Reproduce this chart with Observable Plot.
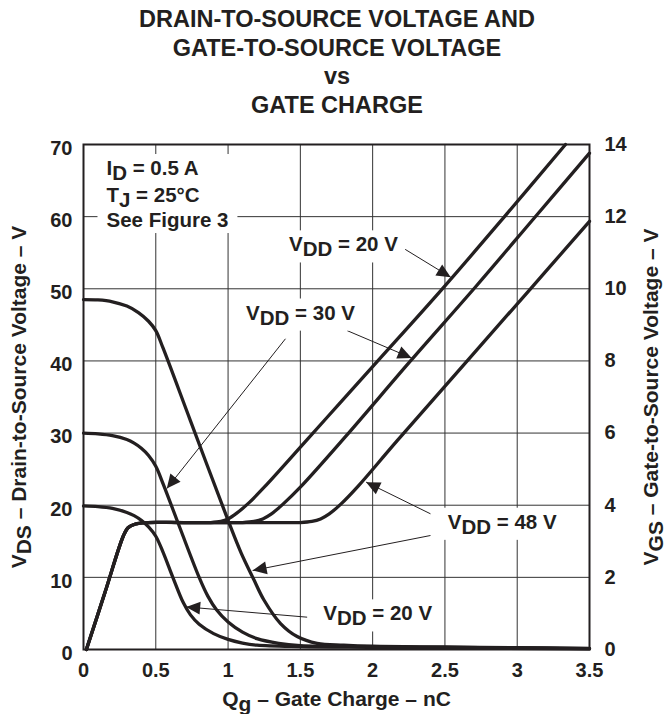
<!DOCTYPE html>
<html>
<head>
<meta charset="utf-8">
<script src="https://cdn.jsdelivr.net/npm/d3@7"></script>
<script src="https://cdn.jsdelivr.net/npm/@observablehq/plot@0.6"></script>
<style>
  body { margin: 0; background: #fff; font-family: "Liberation Sans", Arial, sans-serif; }
  #title { width: 667px; height: 120px; box-sizing: border-box; padding: 5px 0 0 7px; text-align: center;
           font-weight: bold; font-size: 23.5px; line-height: 28.5px; color: #231f20; }
  #chart svg { display: block; }
</style>
</head>
<body>
<div id="title">DRAIN-TO-SOURCE VOLTAGE AND<br>GATE-TO-SOURCE VOLTAGE<br>vs<br>GATE CHARGE</div>
<div id="chart"></div>
<script>
// ---------- axes ----------
const xTicks = [0, 0.5, 1, 1.5, 2, 2.5, 3, 3.5];
const vdsTicks = [0, 10, 20, 30, 40, 50, 60, 70];
const vgsTicks = [0, 2, 4, 6, 8, 10, 12, 14];
const xLabel = "Q_{g} – Gate Charge – nC";
const leftLabel = "V_{DS} – Drain-to-Source Voltage – V";
const rightLabel = "V_{GS} – Gate-to-Source Voltage – V";

// ---------- VDS curves (left axis, V) ----------
const q48 = [0, 0.1, 0.2, 0.3, 0.38, 0.45, 0.5, 0.55, 0.74, 1.0, 1.09, 1.178, 1.247, 1.363, 1.478, 1.616, 1.8, 2.0, 2.5, 3.0, 3.5];
const vds48 = [48.5, 48.45, 48.2, 47.6, 46.7, 45.5, 44.2, 41.8, 31.7, 17.9, 13.4, 9.7, 6.9, 3.6, 1.8, 0.85, 0.6, 0.45, 0.35, 0.25, 0.15];
const q30 = [0, 0.1, 0.2, 0.3, 0.35, 0.4, 0.45, 0.5, 0.55, 0.67, 0.8, 0.86, 0.92, 1.0, 1.1, 1.2, 1.35, 1.5, 2.0, 2.5, 3.0, 3.5];
const vds30 = [30, 29.9, 29.65, 29.1, 28.6, 27.9, 26.9, 25.4, 23.0, 16.7, 10.0, 7.4, 5.5, 3.8, 2.4, 1.5, 0.85, 0.55, 0.4, 0.3, 0.22, 0.12];
const q20 = [0, 0.1, 0.2, 0.3, 0.35, 0.4, 0.45, 0.5, 0.55, 0.62, 0.69, 0.74, 0.8, 0.9, 1.0, 1.1, 1.2, 1.5, 2.0, 3.5];
const vds20 = [19.9, 19.8, 19.55, 19.0, 18.55, 17.9, 17.0, 15.7, 13.5, 9.9, 6.5, 4.8, 3.5, 2.2, 1.4, 0.9, 0.6, 0.4, 0.3, 0.1];

// ---------- VGS curves (right axis, V) ----------
const qg48 = [0.02, 0.15, 0.277, 0.31, 0.36, 0.43, 0.7, 1.0, 1.25, 1.5, 1.58, 1.64, 1.7, 1.78, 1.9, 2.17, 3.092, 3.5];
const vgs48 = [0, 1.6, 3.16, 3.38, 3.48, 3.52, 3.52, 3.52, 3.52, 3.52, 3.55, 3.62, 3.76, 4.03, 4.53, 5.79, 10.0, 11.87];
const qg30 = [0.02, 0.15, 0.277, 0.31, 0.36, 0.43, 0.7, 0.9, 1.1, 1.18, 1.24, 1.3, 1.38, 1.5, 1.812, 2.262, 2.711, 3.115, 3.5];
const vgs30 = [0, 1.6, 3.16, 3.38, 3.48, 3.52, 3.52, 3.52, 3.52, 3.55, 3.62, 3.76, 4.03, 4.5, 5.9, 8.0, 10.05, 11.95, 13.76];
const qg20 = [0.02, 0.15, 0.277, 0.31, 0.36, 0.43, 0.65, 0.88, 0.95, 1.0, 1.06, 1.14, 1.25, 1.547, 1.778, 2.031, 2.476, 2.912, 3.334];
const vgs20 = [0, 1.6, 3.16, 3.38, 3.48, 3.52, 3.52, 3.52, 3.55, 3.62, 3.78, 4.05, 4.5, 5.82, 6.85, 7.98, 9.97, 12.0, 14.0];

// ---------- annotations (data units) ----------
const vddLabels = ["V_{DD} = 20 V", "V_{DD} = 30 V", "V_{DD} = 48 V", "V_{DD} = 20 V"];
const vddLabelQ = [1.798, 1.501, 2.896, 2.035];
const vddLabelV = [56.1, 46.65, 17.65, 4.95];
const noteLines = ["I_{D} = 0.5 A", "T_{J} = 25°C", "See Figure 3"];
const noteQ = [0.159, 0.159, 0.159];
const noteV = [66.68, 62.93, 59.47];
const leaderQ1 = [2.214, 1.824, 1.397, 2.400, 2.400, 1.547];
const leaderV1 = [55.6, 44.2, 43.07, 18.81, 15.8, 4.48];
const leaderQ2 = [2.54, 2.27, 0.576, 1.955, 1.17, 0.71];
const leaderV2 = [51.6, 40.4, 22.3, 23.2, 10.95, 5.9];

// ---------- build tables ----------
const k = vdsTicks[vdsTicks.length - 1] / vgsTicks[vgsTicks.length - 1]; // right-axis to left-axis scale
const rows = [];
function add(id, qs, vs, f) { qs.forEach((q, i) => rows.push({id, q, v: vs[i] * f})); }
add("vds48", q48, vds48, 1);
add("vds30", q30, vds30, 1);
add("vds20", q20, vds20, 1);
add("vgs48", qg48, vgs48, k);
add("vgs30", qg30, vgs30, k);
add("vgs20", qg20, vgs20, k);

const vddTable = vddLabels.map((t, i) => ({t, q: vddLabelQ[i], v: vddLabelV[i]}));
const noteTable = noteLines.map((t, i) => ({t, q: noteQ[i], v: noteV[i]}));
const leaders = leaderQ1.map((q, i) => ({q1: q, v1: leaderV1[i], q2: leaderQ2[i], v2: leaderV2[i]}));

const ink = "#231f20";
const fontFamily = "'Liberation Sans', Arial, Helvetica, sans-serif";
const labelStyle = {x: "q", y: "v", text: "t", lineAnchor: "middle", fontSize: 20.5, fontWeight: "bold", fill: ink};

const svg = Plot.plot({
  width: 667,
  height: 594,
  marginLeft: 83,
  marginRight: 78,
  marginTop: 24,
  marginBottom: 65,
  style: {fontFamily, fontWeight: "bold", color: ink, background: "#fff", overflow: "visible"},
  x: {domain: [0, 3.5]},
  y: {domain: [0, 70]},
  marks: [
    Plot.gridX(xTicks, {stroke: "#333", strokeOpacity: 1, strokeWidth: 1}),
    Plot.gridY(vdsTicks, {stroke: "#333", strokeOpacity: 1, strokeWidth: 1}),
    Plot.link(leaders, {x1: "q1", y1: "v1", x2: "q2", y2: "v2", stroke: ink, strokeWidth: 1}),
    Plot.text(vddTable, {...labelStyle, textAnchor: "middle"}),
    Plot.text(noteTable, {...labelStyle, textAnchor: "start"}),
    Plot.line(rows, {x: "q", y: "v", z: "id", curve: "catmull-rom", stroke: ink, strokeWidth: 3.3,
      strokeLinejoin: "round", strokeLinecap: "round"}),
    Plot.frame({stroke: ink, strokeWidth: 2}),
    Plot.axisX(xTicks, {anchor: "bottom", tickSize: 0, tickPadding: 13, fontSize: 20, fontWeight: "bold",
      tickFormat: d => String(d), label: null, fill: ink}),
    Plot.axisY(vdsTicks, {anchor: "left", tickSize: 0, tickPadding: 11, dy: 4, fontSize: 20, fontWeight: "bold",
      tickFormat: d => String(d), label: null, fill: ink}),
    Plot.axisY(vgsTicks.map(v => v * k), {anchor: "right", tickSize: 0, tickPadding: 15, fontSize: 20, fontWeight: "bold",
      tickFormat: d => String(d / k), label: null, fill: ink}),
    Plot.text([xLabel], {frameAnchor: "bottom", dy: 49.5, textAnchor: "middle", lineAnchor: "middle",
      fontSize: 21, fontWeight: "bold", fill: ink}),
    Plot.text([leftLabel], {frameAnchor: "left", dx: -64.5, rotate: -90, textAnchor: "middle", lineAnchor: "middle",
      fontSize: 21, fontWeight: "bold", fill: ink}),
    Plot.text([rightLabel], {frameAnchor: "right", dx: 62, rotate: -90, textAnchor: "middle", lineAnchor: "middle",
      fontSize: 21, fontWeight: "bold", fill: ink})
  ]
});

const ns = "http://www.w3.org/2000/svg";
const defs = document.createElementNS(ns, "defs");
defs.innerHTML =
  '<marker id="tri" viewBox="-15 -8 16 16" refX="0" refY="0" markerWidth="16" markerHeight="16" markerUnits="userSpaceOnUse" orient="auto" overflow="visible">' +
    '<path d="M-14,-6.5L0,0L-14,6.5Z" fill="' + ink + '"/></marker>';
svg.insertBefore(defs, svg.firstChild);

// subscripts: turn "_{..}" into lowered tspans; remember annotation text elements
const vddEls = [], noteEls = [];
svg.querySelectorAll("text").forEach(t => {
  const s = t.textContent;
  if (vddLabels.includes(s)) vddEls.push(t);
  if (noteLines.includes(s)) noteEls.push(t);
  if (!s.includes("_{")) return;
  while (t.firstChild) t.removeChild(t.firstChild);
  let lowered = false;
  s.split(/(_\{[^}]*\})/).forEach(p => {
    if (!p) return;
    const ts = document.createElementNS(ns, "tspan");
    if (p.startsWith("_{")) {
      ts.textContent = p.slice(2, -1);
      ts.setAttribute("dy", "0.25em");
      lowered = true;
    } else {
      ts.textContent = p;
      if (lowered) { ts.setAttribute("dy", "-0.25em"); lowered = false; }
    }
    t.appendChild(ts);
  });
});

// filled triangular arrowheads on leader lines
let leaderEls = svg.querySelectorAll('g[aria-label="link"] path');
if (!leaderEls.length) leaderEls = svg.querySelectorAll('g[aria-label="link"] line');
leaderEls.forEach(el => el.setAttribute("marker-end", "url(#tri)"));

document.getElementById("chart").appendChild(svg);

// white knock-out boxes behind the annotation texts (they mask the grid as in the reference)
const sr = svg.getBoundingClientRect();
const boxes = document.createElementNS(ns, "g");
function knock(els, padX, padY) {
  let x0 = Infinity, y0 = Infinity, x1 = -Infinity, y1 = -Infinity;
  els.forEach(t => {
    const b = t.getBoundingClientRect();
    x0 = Math.min(x0, b.left); y0 = Math.min(y0, b.top);
    x1 = Math.max(x1, b.right); y1 = Math.max(y1, b.bottom);
  });
  const r = document.createElementNS(ns, "rect");
  r.setAttribute("x", x0 - sr.left - padX);
  r.setAttribute("y", y0 - sr.top - padY);
  r.setAttribute("width", x1 - x0 + 2 * padX);
  r.setAttribute("height", y1 - y0 + 2 * padY);
  r.setAttribute("fill", "white");
  boxes.appendChild(r);
}
vddEls.forEach(t => knock([t], 7, 2));
if (noteEls.length) knock(noteEls, 9, 2);
if (vddEls.length) {
  const g = vddEls[0].parentNode;
  g.parentNode.insertBefore(boxes, g);
}
</script>
</body>
</html>
